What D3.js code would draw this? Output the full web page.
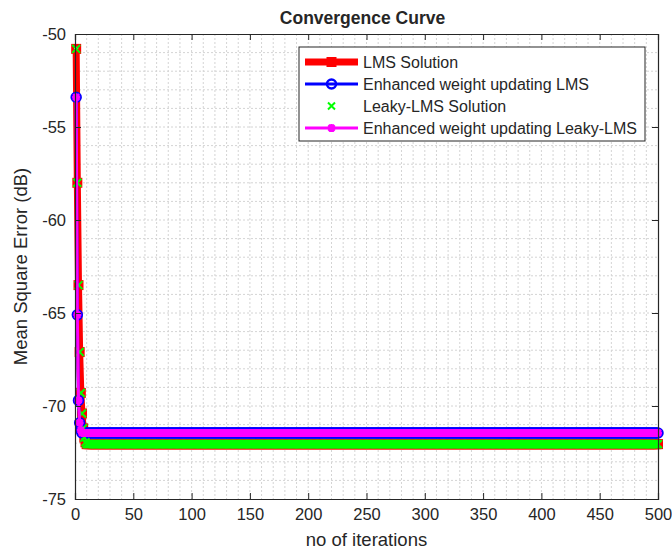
<!DOCTYPE html>
<html>
<head>
<meta charset="utf-8">
<script src="https://cdn.jsdelivr.net/npm/d3@7"></script>
<style>
  body { margin: 0; background: #fff; }
  text { font-family: "Liberation Sans", Arial, sans-serif; fill: #262626; }
</style>
</head>
<body>
<div id="chart"></div>
<script>
// Data (values in dB, iterations 1..500)
var nIter = 500;
var lmsHead = [-50.8, -58.0, -63.5, -67.1, -69.3, -70.4, -71.2, -71.7, -71.95];
var lmsSteady = -72.05;
var ewuHead = [-53.4, -65.1, -69.7, -70.9, -71.3];
var ewuSteady = -71.45;
var leakyHead = [-50.8, -58.0, -63.5, -67.1, -69.3, -70.4, -71.2, -71.7, -71.95];
var leakySteady = -72.05;
var ewuLeakyHead = [-53.4, -65.1, -69.7, -70.9, -71.3];
var ewuLeakySteady = -71.45;

var xTicks = [0, 50, 100, 150, 200, 250, 300, 350, 400, 450, 500];
var yTicks = [-75, -70, -65, -60, -55, -50];
var legendLabels = ["LMS Solution", "Enhanced weight updating LMS",
                    "Leaky-LMS Solution", "Enhanced weight updating Leaky-LMS"];

function buildSeries(head, steady) {
    var out = [];
    for (var i = 0; i < nIter; i++) {
        out.push({ x: i + 1, y: i < head.length ? head[i] : steady });
    }
    return out;
}

var width = 672, height = 553,
    margin = { top: 34, right: 14, bottom: 54, left: 75 },
    chartWidth = width - margin.left - margin.right,
    chartHeight = height - margin.top - margin.bottom;

var svg = d3.select("#chart").append("svg")
    .attr("width", width)
    .attr("height", height);

var g = svg.append("g")
    .attr("transform", "translate(" + margin.left + "," + margin.top + ")");

var x = d3.scaleLinear().domain([0, 500]).range([0, chartWidth]);
var y = d3.scaleLinear().domain([-75, -50]).range([chartHeight, 0]);

// Grid (major + minor, all dotted)
var gridX = d3.range(10, 500, 10), gridY = d3.range(-74, -50, 1);
g.append("g").selectAll("line").data(gridX).enter().append("line")
    .attr("x1", function (d) { return x(d); }).attr("x2", function (d) { return x(d); })
    .attr("y1", 0).attr("y2", chartHeight)
    .attr("stroke", "#d4d4d4").attr("stroke-width", 1).attr("stroke-dasharray", "2,2");
g.append("g").selectAll("line").data(gridY).enter().append("line")
    .attr("y1", function (d) { return y(d); }).attr("y2", function (d) { return y(d); })
    .attr("x1", 0).attr("x2", chartWidth)
    .attr("stroke", "#d4d4d4").attr("stroke-width", 1).attr("stroke-dasharray", "2,2");

var plot = g.append("g");
var line = d3.line().x(function (d) { return x(d.x); }).y(function (d) { return y(d.y); });

function xPath(s) { return "M" + (-s) + "," + (-s) + "L" + s + "," + s + "M" + (-s) + "," + s + "L" + s + "," + (-s); }
function starPath(s) { return xPath(s * 0.75) + "M0," + (-s) + "L0," + s + "M" + (-s) + ",0L" + s + ",0"; }

// LMS (red, thick, squares)
var lms = buildSeries(lmsHead, lmsSteady);
plot.append("path").datum(lms).attr("d", line)
    .attr("fill", "none").attr("stroke", "#ff0000").attr("stroke-width", 7).attr("stroke-linejoin", "round");
plot.append("g").selectAll("rect").data(lms).enter().append("rect")
    .attr("x", function (d) { return x(d.x) - 3.5; }).attr("y", function (d) { return y(d.y) - 3.5; })
    .attr("width", 7).attr("height", 7)
    .attr("fill", "none").attr("stroke", "#ff0000").attr("stroke-width", 3);

// Enhanced LMS (blue, circles)
var ewu = buildSeries(ewuHead, ewuSteady);
plot.append("path").datum(ewu).attr("d", line)
    .attr("fill", "none").attr("stroke", "#0000ff").attr("stroke-width", 3);
plot.append("g").selectAll("circle").data(ewu).enter().append("circle")
    .attr("cx", function (d) { return x(d.x); }).attr("cy", function (d) { return y(d.y); })
    .attr("r", 4.5)
    .attr("fill", "none").attr("stroke", "#0000ff").attr("stroke-width", 2.5);

// Leaky LMS (green x, markers only)
var leaky = buildSeries(leakyHead, leakySteady);
plot.append("g").selectAll("path").data(leaky).enter().append("path")
    .attr("transform", function (d) { return "translate(" + x(d.x) + "," + y(d.y) + ")"; })
    .attr("d", xPath(4))
    .attr("fill", "none").attr("stroke", "#00ff00").attr("stroke-width", 2);

// Enhanced Leaky LMS (magenta, asterisks)
var ewuLeaky = buildSeries(ewuLeakyHead, ewuLeakySteady);
plot.append("path").datum(ewuLeaky).attr("d", line)
    .attr("fill", "none").attr("stroke", "#ff00ff").attr("stroke-width", 3);
plot.append("g").selectAll("path").data(ewuLeaky).enter().append("path")
    .attr("transform", function (d) { return "translate(" + x(d.x) + "," + y(d.y) + ")"; })
    .attr("d", starPath(4))
    .attr("fill", "none").attr("stroke", "#ff00ff").attr("stroke-width", 2.5);

// Axes (box with inward ticks), plain hyphen for negatives like MATLAB
var plain = function (d) { return String(d); };
var axisColor = "#262626";
var bottomAxis = g.append("g").attr("transform", "translate(0," + chartHeight + ")")
    .call(d3.axisBottom(x).tickValues(xTicks).tickFormat(plain).tickSize(-6).tickPadding(9));
var leftAxis = g.append("g")
    .call(d3.axisLeft(y).tickValues(yTicks).tickFormat(plain).tickSize(-6).tickPadding(9));
var topAxis = g.append("g")
    .call(d3.axisTop(x).tickValues(xTicks).tickSize(-6).tickFormat(""));
var rightAxis = g.append("g").attr("transform", "translate(" + chartWidth + ",0)")
    .call(d3.axisRight(y).tickValues(yTicks).tickSize(-6).tickFormat(""));
[bottomAxis, leftAxis, topAxis, rightAxis].forEach(function (a) {
    a.select(".domain").attr("stroke", axisColor).attr("stroke-width", 1.2);
    a.selectAll(".tick line").attr("stroke", axisColor);
    a.selectAll(".tick text").attr("font-size", 16.5).attr("fill", axisColor)
        .style("font-family", "'Liberation Sans', Arial, sans-serif");
});

// Title and labels
svg.append("text").attr("x", margin.left + chartWidth / 2 - 4).attr("y", 24)
    .attr("text-anchor", "middle").attr("font-size", 17.5).attr("font-weight", "bold")
    .attr("fill", "#000").text("Convergence Curve");
svg.append("text").attr("x", margin.left + chartWidth / 2).attr("y", height - 7)
    .attr("text-anchor", "middle").attr("font-size", 18.5).text("no of iterations");
svg.append("text").attr("transform", "translate(27," + (margin.top + chartHeight / 2) + ") rotate(-90)")
    .attr("text-anchor", "middle").attr("font-size", 18.5).text("Mean Square Error (dB)");

// Legend
var leg = svg.append("g").attr("transform", "translate(299,47)");
leg.append("rect").attr("width", 346).attr("height", 94)
    .attr("fill", "#fff").attr("stroke", axisColor).attr("stroke-width", 1);
var rowY = [15, 37, 59, 81];
legendLabels.forEach(function (label, i) {
    var r = leg.append("g").attr("transform", "translate(0," + rowY[i] + ")");
    if (i === 0) {
        r.append("line").attr("x1", 6).attr("x2", 59).attr("stroke", "#ff0000").attr("stroke-width", 7);
        r.append("rect").attr("x", 29).attr("y", -3.5).attr("width", 7).attr("height", 7)
            .attr("fill", "none").attr("stroke", "#ff0000").attr("stroke-width", 3);
    } else if (i === 1) {
        r.append("line").attr("x1", 6).attr("x2", 59).attr("stroke", "#0000ff").attr("stroke-width", 3);
        r.append("circle").attr("cx", 32.5).attr("r", 4.5)
            .attr("fill", "none").attr("stroke", "#0000ff").attr("stroke-width", 2.5);
    } else if (i === 2) {
        r.append("path").attr("transform", "translate(32.5,0)").attr("d", xPath(3.5))
            .attr("fill", "none").attr("stroke", "#00ff00").attr("stroke-width", 2);
    } else {
        r.append("line").attr("x1", 6).attr("x2", 59).attr("stroke", "#ff00ff").attr("stroke-width", 3);
        r.append("path").attr("transform", "translate(32.5,0)").attr("d", starPath(4))
            .attr("fill", "none").attr("stroke", "#ff00ff").attr("stroke-width", 2.5);
    }
    r.append("text").attr("x", 64).attr("y", 6).attr("font-size", 16).attr("fill", "#000").text(label);
});
</script>
</body>
</html>
